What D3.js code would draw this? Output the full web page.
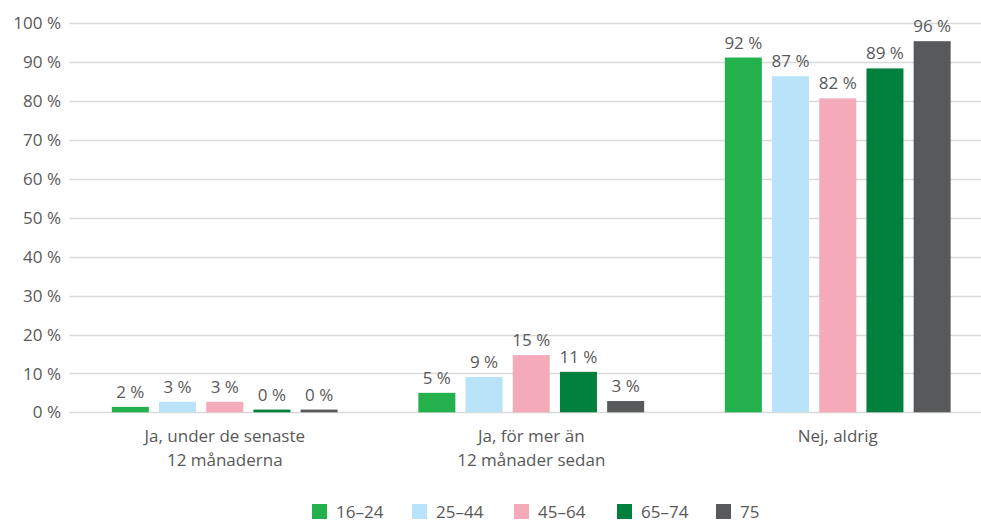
<!DOCTYPE html>
<html>
<head>
<meta charset="utf-8">
<style>
    body { margin: 0; background: #fff; }
    text { font-family: "Open Sans", "Noto Sans", sans-serif; fill: #595959; }
</style>
</head>
<body>
<script src="https://cdn.jsdelivr.net/npm/d3@7"></script>
<script>
    var width = 981, height = 521;

    // data
    var categories = [["Ja, under de senaste", "12 månaderna"], ["Ja, för mer än", "12 månader sedan"], ["Nej, aldrig"]];
    var series = ["16–24", "25–44", "45–64", "65–74", "75"];
    var colors = ["#22b14c", "#b9e3f8", "#f5aab9", "#00803d", "#58595b"];
    // bar heights per series (one per category)
    var values = [
        [1.4, 5.0, 91.2],
        [2.7, 9.1, 86.4],
        [2.7, 14.7, 80.7],
        [0.7, 10.4, 88.4],
        [0.7, 2.9, 95.4]
    ];
    // printed labels
    var labels = [
        [2, 5, 92],
        [3, 9, 87],
        [3, 15, 82],
        [0, 11, 89],
        [0, 3, 96]
    ];
    var yTicks = [0, 10, 20, 30, 40, 50, 60, 70, 80, 90, 100];

    var margin = { left: 71.5, right: -10, top: 23.3, bottom: 108.7 };

    var svg = d3.select("body").append("svg")
        .attr("width", width)
        .attr("height", height);

    var x = d3.scaleBand()
        .domain(d3.range(categories.length))
        .range([margin.left, width - margin.right])
        .paddingInner(0).paddingOuter(0);

    var y = d3.scaleLinear()
        .domain([0, 100])
        .range([height - margin.bottom, margin.top]);

    var barW = 37, barStep = 47.2;
    var groupW = barStep * (series.length - 1) + barW;

    // gridlines
    svg.append("g").selectAll("line")
        .data(yTicks)
        .enter().append("line")
        .attr("x1", 69.5).attr("x2", width)
        .attr("y1", function (d) { return Math.round(y(d)) + 0.5; })
        .attr("y2", function (d) { return Math.round(y(d)) + 0.5; })
        .attr("stroke", "#d9d9d9")
        .attr("stroke-width", 1.3);

    // y tick labels
    svg.append("g").selectAll("text")
        .data(yTicks)
        .enter().append("text")
        .attr("x", 61)
        .attr("y", function (d) { return y(d); })
        .attr("dy", "0.36em")
        .attr("text-anchor", "end")
        .style("font-size", "17px")
        .text(function (d) { return d + " %"; });

    // bars
    series.forEach(function (s, si) {
        var g = svg.append("g");
        g.selectAll("rect")
            .data(values[si])
            .enter().append("rect")
            .attr("x", function (d, ci) { return x(ci) + x.bandwidth() / 2 - groupW / 2 + si * barStep; })
            .attr("width", barW)
            .attr("y", function (d) { return y(d); })
            .attr("height", function (d) { return y(0) - y(d); })
            .attr("fill", colors[si]);
        g.selectAll("text")
            .data(values[si])
            .enter().append("text")
            .attr("x", function (d, ci) { return x(ci) + x.bandwidth() / 2 - groupW / 2 + si * barStep + barW / 2; })
            .attr("y", function (d) { return y(d) - 9; })
            .attr("text-anchor", "middle")
            .style("font-size", "17px")
            .text(function (d, ci) { return labels[si][ci] + " %"; });
    });

    // category labels
    var cat = svg.append("g").selectAll("text")
        .data(categories)
        .enter().append("text")
        .attr("text-anchor", "middle")
        .attr("x", function (d, i) { return x(i) + x.bandwidth() / 2; })
        .attr("y", 441.5)
        .style("font-size", "17px");
    cat.selectAll("tspan")
        .data(function (d) { return d; })
        .enter().append("tspan")
        .attr("x", function () { return d3.select(this.parentNode).attr("x"); })
        .attr("dy", function (d, i) { return i === 0 ? 0 : 24.5; })
        .text(function (d) { return d; });

    // legend
    var legX = [312, 412, 514, 617, 716];
    var leg = svg.append("g").selectAll("g")
        .data(series)
        .enter().append("g")
        .attr("transform", function (d, i) { return "translate(" + legX[i] + ",504)"; });
    leg.append("rect")
        .attr("width", 15).attr("height", 15)
        .attr("fill", function (d, i) { return colors[i]; });
    leg.append("text")
        .attr("x", 24).attr("y", 7.5)
        .attr("dy", "0.36em")
        .style("font-size", "17px")
        .text(function (d) { return d; });
</script>
</body>
</html>
